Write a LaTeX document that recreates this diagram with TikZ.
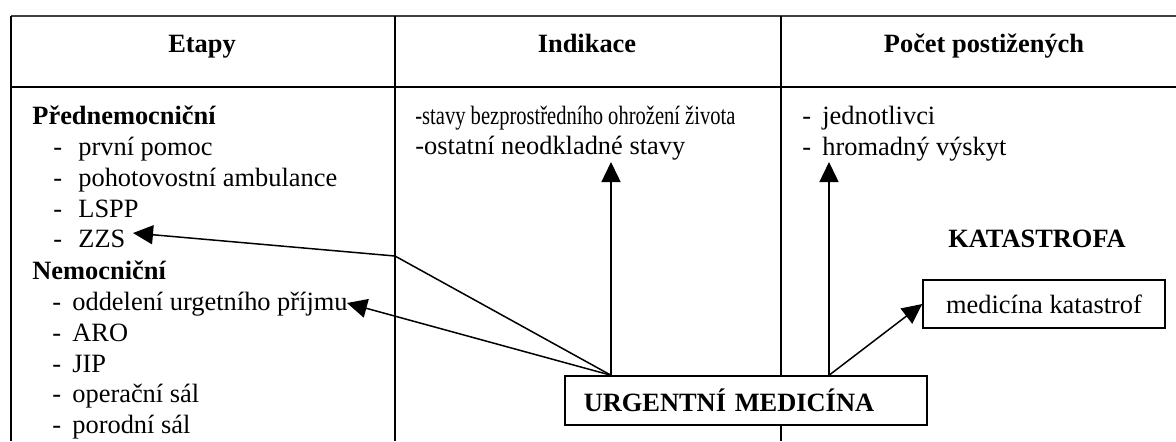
\documentclass[tikz,border=0pt]{standalone}
\usepackage{fontspec}
\setmainfont{Liberation Serif}
\usepackage{graphicx}
\usetikzlibrary{arrows.meta,calc}
\begin{document}
\begin{tikzpicture}[x=0.5pt,y=-0.5pt,
  every node/.style={inner sep=0pt, font=\fontsize{13.2}{15}\selectfont},
  txt/.style={anchor=base west},
  bold/.style={anchor=base west, font=\fontsize{13.2}{15}\selectfont\bfseries},
  hdr/.style={anchor=base, font=\fontsize{13.2}{15}\selectfont\bfseries},
  rule/.style={line width=0.75pt},
  arr/.style={line width=0.75pt, -{Triangle[length=10pt,width=9.5pt]}},
  boxn/.style={draw, fill=white, line width=0.75pt}]
\useasboundingbox[fill=white] (0,0) rectangle (1176,441);
% table rules
\draw[line width=0.6pt, black!75] (11,16) -- (1176,16);
\draw[line width=1.3pt] (11,87) -- (1176,87);
\draw[rule] (11,16) -- (11,441);
\draw[rule] (395,16) -- (395,441);
\draw[rule] (781,16) -- (781,441);
% headers
\node[hdr] (h1) at (202,52) {Etapy};
\node[hdr] (h2) at (587,52) {Indikace};
\node[hdr] (h3) at (984,52) {Počet postižených};
% left column
\node[bold] (pred) at (32,124) {Přednemocniční};
\node[txt] (a1) at (53,155) {\makebox[12.5pt][l]{-}první pomoc};
\node[txt] (a2) at (53,186) {\makebox[12.5pt][l]{-}pohotovostní ambulance};
\node[txt] (a3) at (53,217) {\makebox[12.5pt][l]{-}LSPP};
\node[txt] (zzs) at (53,247) {\makebox[12.5pt][l]{-}ZZS};
\node[bold] (nem) at (32,279) {Nemocniční};
\node[txt] (oup) at (52,310) {\makebox[10pt][l]{-}oddelení urgetního příjmu};
\node[txt] (b2) at (52,341) {\makebox[10pt][l]{-}ARO};
\node[txt] (b3) at (52,372) {\makebox[10pt][l]{-}JIP};
\node[txt] (b4) at (52,402) {\makebox[10pt][l]{-}operační sál};
\node[txt] (b5) at (52,433) {\makebox[10pt][l]{-}porodní sál};
% middle column
\node[txt] (ind1) at (415,124) {\resizebox{160pt}{\height}{-stavy bezprostředního ohrožení života}};
\node[txt] (ind2) at (415,154) {-ostatní neodkladné stavy};
% right column
\node[txt] (p1) at (802,124) {\makebox[10pt][l]{-}jednotlivci};
\node[txt] (p2) at (802,155) {\makebox[10pt][l]{-}hromadný výskyt};
\node[hdr] (kat) at (1037,247) {KATASTROFA};
\node[boxn, minimum width=121pt, minimum height=24pt] (mk) at (1044,304) {medicína katastrof};
% central box
\node[boxn, anchor=west, inner xsep=9.5pt, text width=162pt, align=left,
      minimum height=24.5pt, font=\fontsize{13.2}{15}\selectfont\bfseries]
      (um) at (564,400.5) {URGENTNÍ MEDICÍNA};
% connector points
\coordinate (s1) at ($(um.north west)+(47,0)$);
\coordinate (s2) at ($(um.north west)+(265,0)$);
\coordinate (t1) at (611,162);
\coordinate (t2) at (829,162);
\coordinate (kink) at (395,256);
\coordinate (zt) at (133,233);
\coordinate (ot) at (347,303);
% arrows
\draw[arr] (s1) -- (t1);
\draw[arr] (s2) -- (t2);
\draw[arr] (s1) -- (kink) -- (zt);
\draw[arr] (s1) -- (ot);
\draw[arr] (s2) -- (mk.west);
\end{tikzpicture}
\end{document}
